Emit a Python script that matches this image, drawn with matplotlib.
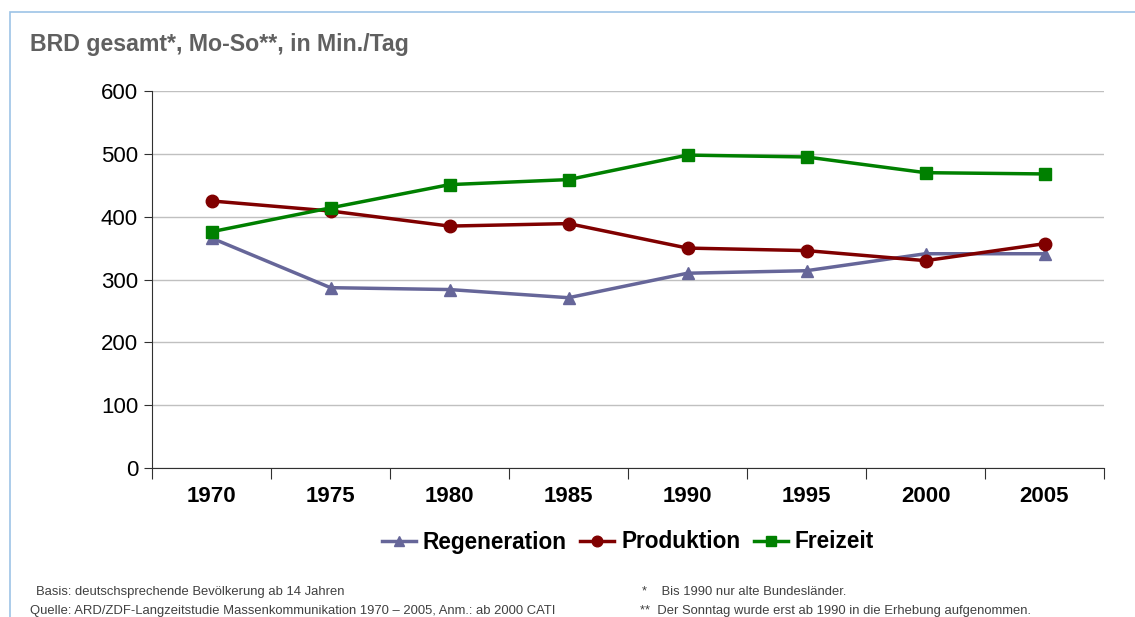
import matplotlib
matplotlib.use("Agg")
import matplotlib.pyplot as plt
from matplotlib.patches import Rectangle
import numpy as np

years = ["1970", "1975", "1980", "1985", "1990", "1995", "2000", "2005"]
regeneration = [366, 287, 284, 271, 310, 314, 341, 341]
produktion = [425, 409, 385, 389, 350, 346, 330, 357]
freizeit = [376, 414, 451, 459, 498, 495, 470, 468]
yticks = [0, 100, 200, 300, 400, 500, 600]

plt.rcParams['font.family'] = ['Liberation Sans', 'DejaVu Sans']

fig = plt.figure(figsize=(11.35, 6.17), dpi=100)
fig.patches.append(Rectangle((10/1135, -0.1), 1.2, 1 - 12/617 + 0.1, transform=fig.transFigure,
                             fill=False, edgecolor='#9dc3e6', linewidth=1.2))

ax = fig.add_axes([152/1135, 1 - 468/617, (1104-152)/1135, (468-91)/617])
x = np.arange(len(years))
ax.plot(x, regeneration, color='#666699', marker='^', markersize=9, linewidth=2.5, label='Regeneration')
ax.plot(x, produktion, color='#800000', marker='o', markersize=9, linewidth=2.5, label='Produktion')
ax.plot(x, freizeit, color='#008000', marker='s', markersize=8.5, linewidth=2.5, label='Freizeit')

ax.set_xlim(-0.5, len(years) - 0.5)
ax.set_ylim(0, 600)
ax.set_yticks(yticks)
ax.set_yticklabels([str(v) for v in yticks], fontsize=16)
ax.set_xticks(np.arange(len(years) + 1) - 0.5)
ax.set_xticklabels([])
ax.set_xticks(x, minor=True)
ax.set_xticklabels(years, minor=True, fontsize=16, fontweight='bold')
ax.tick_params(axis='x', which='major', length=8, direction='out', color='#303030')
ax.tick_params(axis='x', which='minor', length=0, pad=13)
ax.tick_params(axis='y', length=6, direction='out', color='#303030', pad=4)
ax.yaxis.grid(True, color='#c0c0c0', linewidth=1)
ax.set_axisbelow(True)
for s in ['top', 'right']:
    ax.spines[s].set_visible(False)
ax.spines['left'].set_color('#303030')
ax.spines['bottom'].set_color('#303030')

fig.text(30/1135, 1 - 45/617, "BRD gesamt*, Mo-So**, in Min./Tag", fontsize=16.7, fontweight='bold',
         color='#606060', va='center', ha='left')

leg = fig.legend(loc='center', bbox_to_anchor=(628/1135, 1 - 542/617), ncol=3, frameon=False,
                 prop={'size': 16.3, 'weight': 'bold'}, handlelength=1.5, columnspacing=0.6,
                 handletextpad=0.3, markerscale=0.85)

foot_kw = dict(fontsize=9.4, color='#404040', va='center', ha='left')
fig.text(36/1135, 1 - 592/617, "Basis: deutschsprechende Bevölkerung ab 14 Jahren", **foot_kw)
fig.text(30/1135, 1 - 611/617, "Quelle: ARD/ZDF-Langzeitstudie Massenkommunikation 1970 – 2005, Anm.: ab 2000 CATI", **foot_kw)
fig.text(642/1135, 1 - 592/617, "*    Bis 1990 nur alte Bundesländer.", **foot_kw)
fig.text(640/1135, 1 - 611/617, "**  Der Sonntag wurde erst ab 1990 in die Erhebung aufgenommen.", **foot_kw)

fig.savefig("out.png", dpi=100)
